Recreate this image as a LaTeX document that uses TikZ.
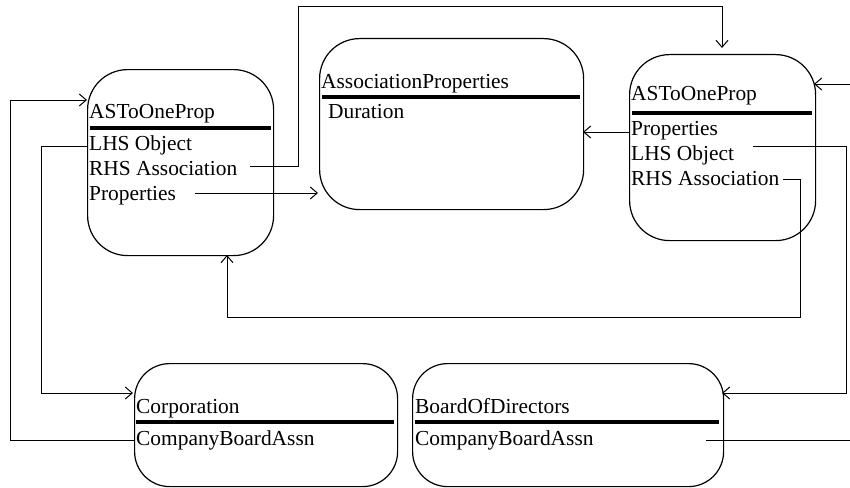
\documentclass[tikz,border=0pt]{standalone}
\usepackage{fontspec}
\setmainfont{Liberation Serif}
\usetikzlibrary{arrows.meta}
\begin{document}
\begin{tikzpicture}[x=1pt,y=-1pt,
  box/.style={draw, line width=1.2pt, rounded corners=40pt, anchor=north west, inner sep=0pt},
  sbox/.style={box, rounded corners=35pt},
  bar/.style={line width=4pt},
  txt/.style={anchor=base west, inner sep=0pt, font=\fontsize{21.4}{25}\selectfont},
  conn/.style={line width=1pt},
  arr/.style={conn, -{Straight Barb[length=7pt,width=12pt]}}
]
\useasboundingbox (0,0) rectangle (850,487);

% boxes
\node[box, minimum width=186pt, minimum height=186pt] (A) at (87,69) {};
\node[box, minimum width=264pt, minimum height=171pt] (B) at (319,38) {};
\node[box, minimum width=186pt, minimum height=186pt] (C) at (629,54) {};
\node[sbox, minimum width=263pt, minimum height=123pt] (D) at (134,363) {};
\node[sbox, minimum width=311pt, minimum height=123pt] (E) at (412,363) {};

% box A
\node[txt] (Atitle) at (89,118) {ASToOneProp};
\draw[bar] (90,128) -- (271,128);
\node[txt] (Alhs) at (89,150) {LHS Object};
\node[txt] (Arhs) at (89,175) {RHS Association};
\node[txt] (Aprop) at (89,200) {Properties};

% box B
\node[txt] (Btitle) at (321,88) {AssociationProperties};
\draw[bar] (322,97) -- (580,97);
\node[txt] (Bdur) at (328,118) {Duration};

% box C
\node[txt] (Ctitle) at (631,100) {ASToOneProp};
\draw[bar] (632,113) -- (812,113);
\node[txt] (Cprop) at (631,135) {Properties};
\node[txt] (Clhs) at (631,160) {LHS Object};
\node[txt] (Crhs) at (631,185) {RHS Association};

% box D
\node[txt] (Dtitle) at (136,413) {Corporation};
\draw[bar] (136,422) -- (394,422);
\node[txt] (Dcba) at (136,445) {CompanyBoardAssn};

% box E
\node[txt] (Etitle) at (415,413) {BoardOfDirectors};
\draw[bar] (415,422) -- (719,422);
\node[txt] (Ecba) at (415,445) {CompanyBoardAssn};

% connector endpoints
\coordinate (c1s) at (250,166);
\coordinate (c1e) at (722,48);
\coordinate (c2s) at (195,193);
\coordinate (c2e) at (318,193);
\coordinate (c3s) at (629,132);
\coordinate (c3e) at (583,132);
\coordinate (c4s) at (753,146);
\coordinate (c4e) at (722,393);
\coordinate (c5s) at (783,179);
\coordinate (c5e) at (227,255);
\coordinate (c6s) at (850,84);
\coordinate (c6e) at (814,84);
\coordinate (c7s) at (87,146);
\coordinate (c7e) at (133,393);
\coordinate (c8s) at (134,440);
\coordinate (c8e) at (87,100);
\coordinate (c9s) at (706,440);
\coordinate (c9e) at (850,440);

% connectors
\draw[arr] (c1s) -| (298,7) -| (c1e);
\draw[arr] (c2s) -- (c2e);
\draw[arr] (c3s) -- (c3e);
\draw[arr] (c4s) -| (846,393) -- (c4e);
\draw[arr] (c5s) -| (800,317) -| (c5e);
\draw[arr] (c6s) -- (c6e);
\draw[arr] (c7s) -| (41,393) -- (c7e);
\draw[arr] (c8s) -| (10,100) -- (c8e);
\draw[conn] (c9s) -- (c9e);
\end{tikzpicture}
\end{document}
